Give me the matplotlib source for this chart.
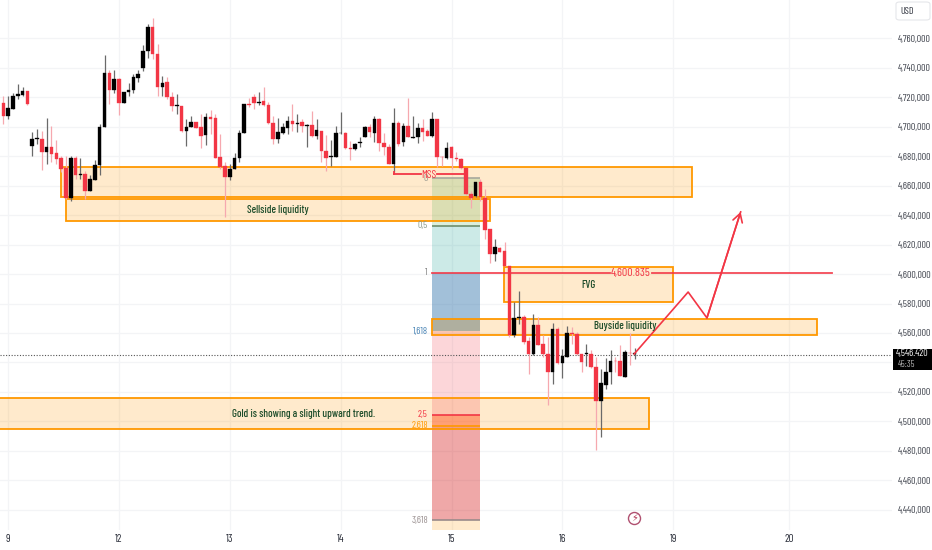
import matplotlib
matplotlib.use("Agg")
import matplotlib.pyplot as plt
from matplotlib.patches import Rectangle, FancyBboxPatch

plt.rcParams['font.family'] = ['Barlow Condensed', 'Roboto Condensed', 'DejaVu Sans']

opens = [4716.1,4707.1,4712,4720.6,4721.3,4724,4686.9,4691.7,4691.7,4682.9,4686,4682,4678.6,4672.2,4651.6,4678.6,4667.5,4668,4656.2,4663.8,
 4674.3,4699.6,4736.5,4725.2,4732.6,4715.9,4723.8,4724.7,4733.3,4740.1,4751.4,4767.7,4749.4,4727.2,4730.1,4720.4,4714.1,4714.3,4696.9,4699.6,
 4703.2,4699.6,4694.2,4706.6,4705.7,4679.5,4673.1,4666.1,4671.3,4679,4695.5,4715.4,4720,4716.3,4717.2,4714.7,4702.8,4691.7,4695.7,4699.1,
 4704.1,4701.9,4703,4700.8,4701.2,4694,4697.4,4683.8,4679.3,4679.5,4695.6,4695.8,4685.4,4684.7,4688.8,4693,4700.1,4696,4705.3,4688.8,
 4686.5,4674.8,4702.4,4689.5,4700.8,4692.6,4693,4699.4,4697.4,4694,4705.3,4679.7,4678.8,4686.1,4678.8,4678.1,4671.8,4654.4,4653.3,4662.3,
 4651.4,4630.7,4613.7,4617.8,4615.5,4605.8,4558.7,4570,4570.7,4554.4,4545.4,4565.7,4552.2,4545.4,4533.4,4562.6,4539.7,4543.6,4560.1,4559.4,
 4545.8,4545.6,4545.8,4536.8,4514.1,4524.8,4533.4,4541.3,4540.8,4530.4,4546.7,4546]
highs = [4720.6,4720.6,4722.9,4729,4726.7,4724,4696.2,4698.5,4697.3,4705.7,4700.7,4690.8,4680.4,4680.4,4680.4,4680.4,4679,4669.7,4667.2,4677.6,
 4701.9,4748.7,4738.5,4738.5,4732.9,4723.8,4729.5,4735.8,4738.7,4755.5,4770,4773.6,4755.9,4734.2,4733.5,4723.3,4722.2,4714.3,4705.2,4707,
 4703.2,4708.6,4709.3,4711.6,4708.6,4695.1,4675.8,4674.7,4682.2,4698,4715.4,4719.3,4722.2,4723.8,4727,4717,4707.5,4705.7,4702.5,4707.5,
 4715.4,4708.6,4705.3,4701.9,4711,4705.3,4697.4,4694.7,4691.3,4700.3,4709.8,4696.2,4690.6,4689,4692.9,4700.3,4701.9,4707.1,4705.7,4695.8,
 4688.3,4712.5,4703.7,4702.6,4719.3,4707.1,4702.4,4705.3,4698.5,4710.3,4705.3,4680,4689.5,4686.7,4682.7,4678.6,4671.8,4656.7,4662.3,4664.6,
 4657.8,4630.7,4623.9,4618.2,4621.6,4605.8,4580.9,4588.8,4572.3,4557.1,4573,4570.7,4558.7,4557.1,4566.9,4563.9,4549.2,4564.6,4563.9,4560.5,
 4545.8,4552.6,4548.1,4543.6,4535.6,4542.9,4548.1,4543.6,4551.5,4548.1,4559.8,4549.7]
lows = [4701.9,4705.2,4712,4718.8,4720.6,4714.7,4679.9,4688.3,4670.6,4674.7,4675.8,4674.7,4669,4651,4649.8,4664.5,4664.5,4651,4656.2,4663.8,
 4667.5,4699.6,4715.4,4722.9,4708,4715.9,4721,4722.9,4730.1,4737.8,4746.4,4746,4720.6,4721,4718.8,4710.9,4708.6,4696.2,4686.7,4699.6,
 4699.1,4685.3,4687.6,4695.1,4678.6,4671.3,4639,4663.8,4671.3,4675.8,4695.5,4713.2,4712,4714.7,4714.3,4701.9,4688.3,4689,4695.1,4695.1,
 4697.3,4696.7,4696.2,4686.1,4692.9,4691.7,4675.9,4670.2,4673.2,4679.3,4695.1,4684.9,4677.7,4684.3,4686.1,4692.9,4692.9,4689.5,4683.8,4681.1,
 4674.8,4669.1,4686.7,4686.7,4692.9,4692.4,4689,4690.6,4694,4692.9,4672.9,4673.6,4678.1,4671.4,4677,4671.4,4653.7,4644.7,4652.1,4649.9,
 4623.8,4607.6,4609.2,4614.8,4605.8,4557.1,4557.1,4566.2,4552.6,4531.8,4544.7,4551.5,4543.6,4510.8,4525.5,4539,4529.5,4543.6,4552.6,4545.1,
 4533.4,4537.9,4536.3,4480.2,4489.3,4522.1,4525.5,4533.4,4530.7,4529.9,4538.4,4542.4]
closes = [4707.1,4712.7,4720.9,4722,4724,4715.4,4691.7,4692.1,4682.9,4686,4681.5,4677.9,4671.3,4651.6,4678.6,4667.2,4668,4656.2,4664.3,4674.3,
 4699.8,4736.5,4725.2,4732.6,4715.9,4723.6,4725.2,4733.5,4735.6,4751.4,4767.7,4749.1,4727.2,4729.9,4720.4,4714.1,4714.5,4696.9,4699.8,4703.2,
 4699.1,4693.9,4706.6,4705.3,4678.6,4672.7,4666.1,4671.3,4679,4695.7,4715.4,4715,4716.3,4716.8,4714.7,4702.5,4691.7,4696.2,4699.6,4704.1,
 4701.6,4702.5,4700.3,4701.2,4694,4697.8,4683.3,4679,4680,4695.8,4696,4685.4,4684.9,4688.3,4689.5,4700.1,4696.2,4705.3,4688.8,4686.5,
 4674.8,4702.4,4688.1,4700.8,4692.9,4693.3,4699.4,4696.7,4694,4705.3,4679.3,4679.3,4685.6,4678.6,4678.1,4671.8,4654.4,4651.9,4662.3,4652.1,
 4630.2,4613.7,4618.2,4615.3,4605.8,4558.7,4570.3,4570.7,4554.2,4545.4,4565.7,4551.9,4545.4,4533.4,4562.6,4539.7,4544.2,4559.8,4559.4,4545.8,
 4540.2,4546.3,4536.8,4514.1,4525.9,4533.4,4541.3,4540.8,4531.1,4547,4546.3,4546.5]

price_ticks = list(range(4440, 4761, 20))
day_pos = [1, 24, 47, 70, 93, 116, 139, 163]
day_labels = ['9', '12', '13', '14', '15', '16', '19', '20']

# zones: x0, x1, price low, price high
zones = [(11.9, 143.0, 4652.2, 4672.9), (12.95, 100.9, 4636.3, 4651.0), (103.9, 138.9, 4581.0, 4604.6),
         (88.9, 168.8, 4558.7, 4569.7), (-5, 133.95, 4494.6, 4516.1)]
zone_texts = [(57.0, 4643.2, 'Sellside liquidity'), (121.5, 4592.6, 'FVG'), (129, 4564.4, 'Buyside liquidity'),
              (62.4, 4505.3, 'Gold is showing a slight upward trend.')]
fib_x = (88.9, 99.0)
fib_prices = [4665.0, 4632.9, 4600.8, 4561.1, 4504.5, 4496.9, 4432.8]
fib_names = ['0', '0,5', '1', '1,618', '2,5', '2,618', '3,618']
fib_fill = [('#4CAF50', .2), ('#009688', .2), ('#4682B4', .5), ('#F23645', .2), ('#FF5722', .5), ('#D72626', .4)]
fib_line = ['#A8A89C', '#6E8F6E', '#F23645', '#4682B4', '#F23645', '#FF9800', '#9A8A8A']
fib_text = ['#9A9A90', '#8A9A8A', '#808080', '#4682B4', '#F23645', '#FF9800', '#9A9090']
target = 4600.835
path_x = [130.9, 142.1, 146.0, 153.0]
path_p = [4545.7, 4587.8, 4570.2, 4642.2]
last_line = 4545.3
RED = '#F23645'
ORANGE = '#FF9800'

fig = plt.figure(figsize=(9.32, 5.5), dpi=100, facecolor='white')
ax = fig.add_axes([0, 1 - 530 / 550, 892 / 932, 530 / 550])
ax.set_xlim(-0.685, 184.4)
ax.set_ylim(4426.2, 4786.1)
for s in ax.spines.values():
    s.set_visible(False)
ax.set_yticks(price_ticks)
ax.set_yticklabels([f'4,{p - 4000},000' for p in price_ticks])
ax.yaxis.tick_right()
ax.set_xticks(day_pos)
ax.set_xticklabels(day_labels)
ax.tick_params(axis='y', length=0, pad=4.2, labelsize=7.2, labelcolor='#3a3e48')
ax.tick_params(axis='x', length=0, pad=3.2, labelsize=8, labelcolor='#2a2e39')
ax.grid(True, color='#F3F4F6', lw=0.9)
ax.set_axisbelow(True)

for x0, x1, lo, hi in zones:
    ax.add_patch(Rectangle((x0, lo), x1 - x0, hi - lo, facecolor=ORANGE, alpha=.2, lw=0, zorder=1))
    ax.add_patch(Rectangle((x0, lo), x1 - x0, hi - lo, fill=False, edgecolor=ORANGE, lw=1.3, zorder=3))
ax.add_patch(Rectangle((fib_x[0], 4426.2), fib_x[1] - fib_x[0], 6.6, facecolor=ORANGE, alpha=.2, lw=0, zorder=1))

for i, (c, a) in enumerate(fib_fill):
    ax.add_patch(Rectangle((fib_x[0], fib_prices[i + 1]), fib_x[1] - fib_x[0], fib_prices[i] - fib_prices[i + 1],
                           facecolor=c, alpha=a, lw=0, zorder=2))
ax.add_patch(Rectangle((fib_x[0], 4561.1), fib_x[1] - fib_x[0], 8.6, facecolor='#AFAF9F', lw=0, zorder=2))
for i, p in enumerate(fib_prices):
    if fib_names[i] not in ('1', '1,618'):
        ax.plot(fib_x, [p, p], color=fib_line[i], lw=1.2, zorder=3, solid_capstyle='butt')
    ax.text(fib_x[0] - 0.8, p, fib_names[i], ha='right', va='center', fontsize=7.2, color=fib_text[i], zorder=5)

# horizontal target line, broken by its label
ax.plot([88.9, 125.9], [target, target], color=RED, lw=1.3, alpha=.9, zorder=4)
ax.plot([134.6, 171.9], [target, target], color=RED, lw=1.3, alpha=.9, zorder=4)
ax.text(130.25, target, '4,600.835', ha='center', va='center', fontsize=8.6, color=RED, zorder=5)

for x, y, t in zone_texts:
    ax.text(x, y, t, ha='center', va='center', fontsize=7.8, color='#1E4D2B', fontweight='medium', zorder=6)

# candles
for i, (o, h, l, c) in enumerate(zip(opens, highs, lows, closes)):
    up = c >= o
    ax.vlines(i, l, h, color='#6A6A6A' if up else '#F6A8AF', lw=0.9, zorder=3.5)
    ax.bar(i, abs(c - o), bottom=min(o, c), width=0.74, color='#000000' if up else RED,
           edgecolor='#000000' if up else RED, lw=0.25, zorder=3.6)

# MSS
ax.plot([81, 81], [4669, 4668], color=RED, lw=1.3, zorder=4)
ax.plot([81, 86.6], [4668, 4668], color=RED, lw=1.3, zorder=4)
ax.plot([90.0, 96], [4668, 4668], color=RED, lw=1.3, zorder=4)
ax.text(88.3, 4667.5, 'MSS', ha='center', va='center', fontsize=8, color=RED, zorder=5)

# path
ax.plot(path_x, path_p, color=RED, lw=1.2, zorder=4.5)
ax.annotate('', xy=(path_x[-1], path_p[-1]), xytext=(path_x[-2], path_p[-2]),
            arrowprops=dict(arrowstyle='->,head_length=0.6,head_width=0.35', color=RED, lw=1.2, shrinkA=0, shrinkB=0), zorder=4.5)

# last price
ax.axhline(last_line, color='#555555', lw=0.8, ls=(0, (1, 1.5)), zorder=3)

fig.patches.append(Rectangle((893 / 932, 1 - 370 / 550), 39 / 932, 21 / 550, transform=fig.transFigure,
                             facecolor='black', lw=0))
fig.text(912.5 / 932, 1 - 353.8 / 550, '4,546.420', ha='center', va='center', fontsize=7.2, color='white')
fig.text(897.5 / 932, 1 - 364.5 / 550, '45:35', ha='left', va='center', fontsize=6.8, color='#B0B0B0')

fig.patches.append(FancyBboxPatch((896 / 932, 1 - 20 / 550), 34 / 932, 18 / 550, transform=fig.transFigure,
                                  boxstyle='round,pad=0,rounding_size=0.004', facecolor='white', edgecolor='#E5E6EA', lw=0.8))
fig.text(900 / 932, 1 - 11.5 / 550, 'USD', ha='left', va='center', fontsize=7.2, color='#2a2e39')

# lightning badge
ax.scatter([130.9], [4434.5], s=75, facecolor='white', edgecolor='#B05070', lw=1, zorder=6)
ax.text(130.9, 4434.5, '\u26A1', ha='center', va='center', fontsize=7, color='#B03050', family='DejaVu Sans', zorder=7)

fig.savefig('out.png', dpi=100)
